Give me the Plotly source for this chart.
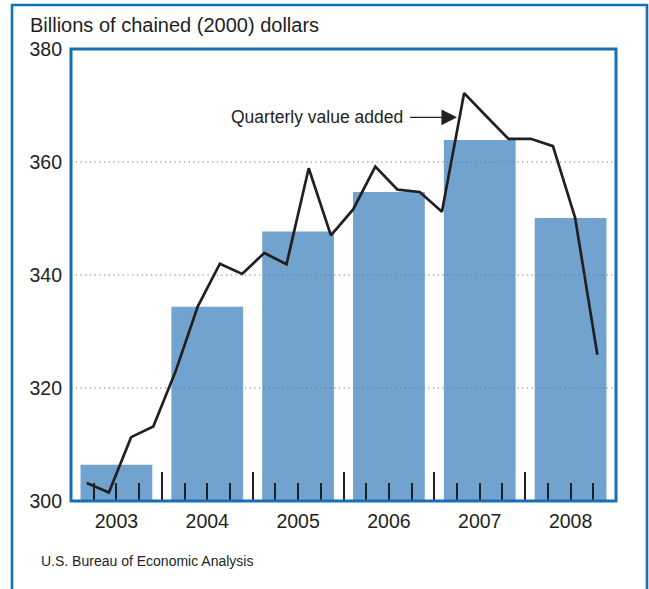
import plotly.graph_objects as go

# ---- data ----
years = ["2003", "2004", "2005", "2006", "2007", "2008"]
annual_value_added = [306.4, 334.4, 347.7, 354.7, 363.9, 350.1]
quarterly_value_added = [
    303.2, 301.5, 311.3, 313.2,   # 2003
    322.9, 334.4, 342.0, 340.2,   # 2004
    343.9, 341.9, 358.9, 347.0,   # 2005
    351.6, 359.2, 355.1, 354.7,   # 2006
    351.2, 372.2, 368.1, 364.1,   # 2007
    364.1, 362.8, 350.1, 325.9,   # 2008
]
y_ticks = [300, 320, 340, 360, 380]
grid_vals = [320, 340, 360]

# ---- styling ----
BLUE = "#1470b2"
BAR = "#72a2ce"
INK = "#231f20"
FONT = "Liberation Sans, Arial, sans-serif"

n_q = len(quarterly_value_added)
quarter_pos = list(range(n_q))
year_bounds = [4 * k for k in range(1, len(years))]
minor_ticks = [q for q in range(1, 4 * len(years)) if q % 4]

fig = go.Figure()
fig.add_trace(go.Bar(
    x=years, y=annual_value_added, xaxis="x", yaxis="y",
    marker=dict(color=BAR, line=dict(width=0)), showlegend=False,
    hoverinfo="skip",
))
# carrier trace for the quarter tick axis
fig.add_trace(go.Scatter(
    x=[0, 4 * len(years)], y=[None, None], xaxis="x2", yaxis="y",
    mode="lines", showlegend=False, hoverinfo="skip",
))
fig.add_trace(go.Scatter(
    x=quarter_pos, y=quarterly_value_added, xaxis="x3", yaxis="y",
    mode="lines", line=dict(color=INK, width=2.7), showlegend=False,
))

W, H = 649, 589
L, R, T, B = 71, 33, 49, 88
pw, ph = W - L - R, H - T - B


def px_x(p):
    return (p - L) / pw


def px_y(p):
    return (H - B - p) / ph


fig.update_layout(
    width=W, height=H,
    margin=dict(l=L, r=R, t=T, b=B, pad=0),
    paper_bgcolor="white", plot_bgcolor="white",
    font=dict(family=FONT, color=INK),
    bargap=0.21,
    xaxis=dict(
        type="category", range=[-0.5, len(years) - 0.5],
        showgrid=False, showline=False, zeroline=False, ticks="",
        tickfont=dict(size=19.5, color=INK), ticklabelstandoff=6,
    ),
    xaxis2=dict(
        overlaying="x", anchor="y", range=[0, 4 * len(years)],
        showgrid=False, showline=False, zeroline=False,
        tickmode="array", tickvals=year_bounds, showticklabels=False,
        ticks="inside", ticklen=29, tickwidth=1.6, tickcolor=INK,
        minor=dict(tickmode="array", tickvals=minor_ticks, ticks="inside",
                   ticklen=18, tickwidth=1.6, tickcolor=INK, showgrid=False),
    ),
    xaxis3=dict(
        overlaying="x", anchor="y", range=[-0.707, 23.84], visible=False,
    ),
    yaxis=dict(
        range=[300, 380], tickmode="array", tickvals=y_ticks,
        showgrid=False, showline=False, zeroline=False, ticks="",
        tickfont=dict(size=19.5, color=INK), ticklabelstandoff=8,
    ),
)

shapes = []
for v in grid_vals:
    shapes.append(dict(type="line", xref="paper", yref="y", x0=0, x1=1, y0=v, y1=v,
                       line=dict(color="#7a7a7a", width=1.2, dash="1.3px,3.4px"),
                       layer="above"))
# plot frame
shapes.append(dict(type="rect", xref="paper", yref="paper", x0=0, x1=1, y0=0, y1=1,
                   line=dict(color=BLUE, width=3), fillcolor="rgba(0,0,0,0)", layer="above"))
# outer panel frame
shapes.append(dict(type="rect", xref="paper", yref="paper",
                   x0=px_x(12), x1=px_x(647), y0=px_y(620), y1=px_y(5),
                   line=dict(color=BLUE, width=2.6), fillcolor="rgba(0,0,0,0)", layer="above"))
fig.update_layout(shapes=shapes)

fig.add_annotation(
    text="Billions of chained (2000) dollars", xref="paper", yref="paper",
    x=px_x(28), y=px_y(25), xanchor="left", yanchor="middle", showarrow=False,
    font=dict(size=20, color=INK, family=FONT),
)
fig.add_annotation(
    text="U.S. Bureau of Economic Analysis", xref="paper", yref="paper",
    x=px_x(39), y=px_y(561), xanchor="left", yanchor="middle", showarrow=False,
    font=dict(size=14, color=INK, family=FONT),
)
fig.add_annotation(
    text="Quarterly value added", xref="x3", yref="y",
    x=16.68, y=367.9, ax=-52, ay=0, xanchor="right", yanchor="middle",
    showarrow=True, arrowhead=2, arrowsize=2.4, arrowwidth=1.3, arrowcolor=INK,
    startstandoff=5, standoff=0,
    font=dict(size=17.5, color=INK, family=FONT),
)

fig.write_html(
    "out.html",
    config={"displayModeBar": False},
    post_script="document.body.style.margin='0';document.body.style.overflow='hidden';",
)
